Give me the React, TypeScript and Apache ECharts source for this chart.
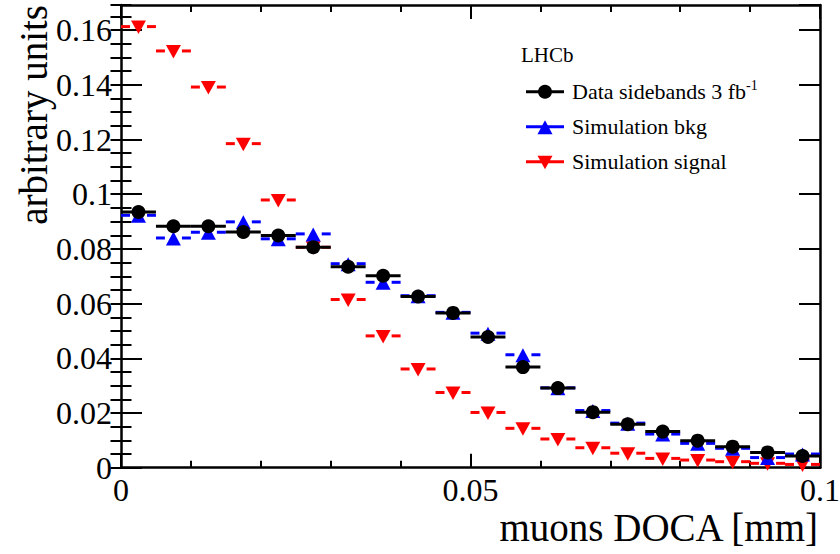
import React, { useEffect, useRef } from "react";
import * as echarts from "echarts";

// Histogram binning of the muon distance of closest approach
const binCenters = [
  0.0025, 0.0075, 0.0125, 0.0175, 0.0225, 0.0275, 0.0325, 0.0375, 0.0425, 0.0475,
  0.0525, 0.0575, 0.0625, 0.0675, 0.0725, 0.0775, 0.0825, 0.0875, 0.0925, 0.0975,
];
const binWidth = 0.005;

const dataSidebands = [
  0.0935, 0.0883, 0.0883, 0.0862, 0.0849, 0.0806, 0.0735, 0.0702, 0.0626, 0.0566,
  0.0478, 0.0368, 0.0291, 0.0203, 0.0159, 0.0132, 0.0099, 0.0077, 0.0056, 0.0043,
];
const simulationBkg = [
  0.0923, 0.0840, 0.0861, 0.0899, 0.0837, 0.0855, 0.0746, 0.0678, 0.0629, 0.0568,
  0.0492, 0.0413, 0.0292, 0.0209, 0.0163, 0.0123, 0.0089, 0.0071, 0.0037, 0.0050,
];
const simulationSignal = [
  0.1613, 0.1524, 0.1392, 0.1185, 0.0979, 0.0806, 0.0615, 0.0482, 0.0361, 0.0275,
  0.0202, 0.0144, 0.0105, 0.0073, 0.0053, 0.0034, 0.0028, 0.0022, 0.0016, 0.0012,
];

const xTickLabels = ["0", "0.05", "0.1"];
const yMax = 0.1692;

const FONT = "'Liberation Serif', 'Times New Roman', serif";
const BLACK = "#000000";
const BLUE = "#0000ff";
const RED = "#ff0000";

type Kind = "circle" | "up" | "down";

function markerShape(kind: Kind, x: number, y: number, color: string) {
  if (kind === "circle") {
    return { type: "circle", shape: { cx: x, cy: y, r: 7 }, style: { fill: color } };
  }
  const hw = 7.5;
  const pts =
    kind === "up"
      ? [[x, y - 6.5], [x - hw, y + 7.5], [x + hw, y + 7.5]]
      : [[x - hw, y - 6], [x + hw, y - 6], [x, y + 7.5]];
  return { type: "polygon", shape: { points: pts }, style: { fill: color } };
}

function histSeries(name: string, values: number[], color: string, kind: Kind, gapped: boolean) {
  return {
    name,
    type: "custom",
    clip: false,
    data: binCenters.map((c, i) => [c, values[i]]),
    encode: { x: 0, y: 1 },
    renderItem: (_params: any, api: any) => {
      const c = api.value(0);
      const v = api.value(1);
      const p = api.coord([c, v]);
      const l = api.coord([c - binWidth / 2, v]);
      const r = api.coord([c + binWidth / 2, v]);
      const lineStyle = { stroke: color, lineWidth: 3 };
      const gap = 8.5;
      const bars = gapped
        ? [
            { type: "line", shape: { x1: l[0], y1: p[1], x2: p[0] - gap, y2: p[1] }, style: lineStyle },
            { type: "line", shape: { x1: p[0] + gap, y1: p[1], x2: r[0], y2: p[1] }, style: lineStyle },
          ]
        : [{ type: "line", shape: { x1: l[0], y1: p[1], x2: r[0], y2: p[1] }, style: lineStyle }];
      return { type: "group", children: [...bars, markerShape(kind, p[0], p[1], color)] };
    },
  };
}

function legendRow(y: number, color: string, kind: Kind, text: any) {
  return [
    { type: "line", shape: { x1: 526, y1: y, x2: 564, y2: y }, style: { stroke: color, lineWidth: 3 } },
    markerShape(kind, 545, y, color),
    {
      type: "text",
      x: 572,
      y,
      style: { ...text, fill: BLACK, fontFamily: FONT, verticalAlign: "middle", align: "left" },
    },
  ];
}

const fmt = (v: number) => (v === 0 ? "0" : String(+v.toFixed(3)));

export default function App() {
  const ref = useRef<HTMLDivElement>(null);

  useEffect(() => {
    if (!ref.current) return;
    const chart = echarts.init(ref.current, undefined, { renderer: "svg" });

    const frame = { show: true, onZero: false, lineStyle: { color: BLACK, width: 2.5 } };
    const tickStyle = { color: BLACK, width: 2 };

    const xBase = {
      type: "value",
      min: 0,
      max: 0.1,
      interval: 0.05,
      axisLine: frame,
      splitLine: { show: false },
      minorSplitLine: { show: false },
      axisTick: { show: true, inside: true, length: 14, lineStyle: tickStyle },
      minorTick: { show: true, splitNumber: 5, length: 7, lineStyle: tickStyle },
    };

    const yBase = {
      type: "value",
      min: 0,
      max: yMax,
      splitLine: { show: false },
    };

    chart.setOption({
      animation: false,
      backgroundColor: "#ffffff",
      grid: { left: 121, right: 20, top: 5, bottom: 86.3, containLabel: false, outerBoundsMode: "none" },
      xAxis: [
        {
          ...xBase,
          position: "bottom",
          axisLabel: {
            show: true,
            margin: 6,
            fontSize: 32,
            fontFamily: FONT,
            color: BLACK,
            formatter: (v: number) => {
              const s = fmt(v);
              return xTickLabels.includes(s) ? s : "";
            },
          },
        },
        { ...xBase, position: "top", axisLabel: { show: false } },
      ],
      yAxis: [
        {
          ...yBase,
          position: "left",
          interval: 0.02,
          axisLine: frame,
          axisTick: { show: true, inside: true, length: 21, lineStyle: tickStyle },
          axisLabel: {
            show: true,
            margin: 9,
            fontSize: 32,
            fontFamily: FONT,
            color: BLACK,
            showMaxLabel: false,
            formatter: (v: number) => (v > 0.161 ? "" : fmt(v)),
          },
        },
        {
          ...yBase,
          position: "left",
          interval: 0.005,
          axisLine: { show: false },
          axisTick: { show: true, inside: true, length: 10.5, lineStyle: tickStyle },
          axisLabel: { show: false },
        },
        {
          ...yBase,
          position: "right",
          interval: 0.02,
          axisLine: frame,
          axisTick: { show: true, inside: true, length: 21, lineStyle: tickStyle },
          axisLabel: { show: false },
        },
        {
          ...yBase,
          position: "right",
          interval: 0.005,
          axisLine: { show: false },
          axisTick: { show: true, inside: true, length: 10.5, lineStyle: tickStyle },
          axisLabel: { show: false },
        },
      ],
      series: [
        histSeries("Simulation signal", simulationSignal, RED, "down", true),
        histSeries("Simulation bkg", simulationBkg, BLUE, "up", true),
        histSeries("Data sidebands 3 fb-1", dataSidebands, BLACK, "circle", false),
      ],
      graphic: [
        {
          type: "text",
          x: 818,
          y: 527,
          style: {
            text: "muons DOCA [mm]",
            fontSize: 39,
            fontFamily: FONT,
            fill: BLACK,
            align: "right",
            verticalAlign: "middle",
          },
        },
        {
          type: "text",
          x: 33,
          y: 5,
          rotation: Math.PI / 2,
          style: {
            text: "arbitrary units",
            fontSize: 39,
            fontFamily: FONT,
            fill: BLACK,
            align: "right",
            verticalAlign: "middle",
          },
        },
        {
          type: "text",
          x: 521,
          y: 55,
          style: { text: "LHCb", fontSize: 21, fontFamily: FONT, fill: BLACK, verticalAlign: "middle" },
        },
        ...legendRow(91.7, BLACK, "circle", {
          text: "{m|Data sidebands 3 fb}{s|-1}",
          rich: {
            m: { fontSize: 22, lineHeight: 26, fontFamily: FONT, fill: BLACK },
            s: { fontSize: 14, lineHeight: 16, fontFamily: FONT, fill: BLACK, verticalAlign: "top" },
          },
        }),
        ...legendRow(126.7, BLUE, "up", { text: "Simulation bkg", fontSize: 22 }),
        ...legendRow(161.7, RED, "down", { text: "Simulation signal", fontSize: 22 }),
      ],
    });

    return () => chart.dispose();
  }, []);

  return (
    <div
      ref={ref}
      style={{ position: "fixed", left: 0, top: 0, width: 840, height: 554, background: "#ffffff" }}
    />
  );
}
